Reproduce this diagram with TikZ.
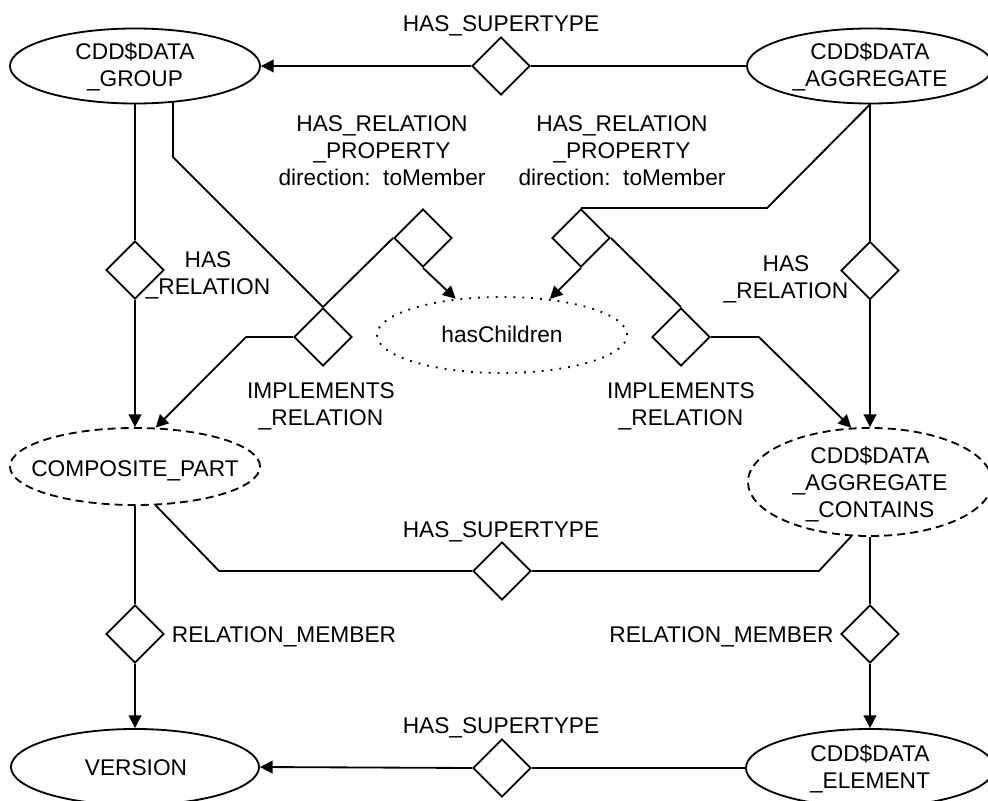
\documentclass[tikz,border=0pt]{standalone}
\usepackage{fontspec}
\setmainfont{Liberation Sans}
\usetikzlibrary{shapes.geometric,arrows.meta,backgrounds}
\begin{document}
\begin{tikzpicture}[x=0.025cm,y=-0.025cm,
  font=\fontsize{16.15}{19.2}\selectfont,
  line width=1.3pt,
  every node/.style={inner sep=0pt},
  ent/.style={ellipse, draw, fill=white},
  dashedent/.style={ent, dash pattern=on 5.7pt off 3.6pt},
  dottedent/.style={ent, dash pattern=on 1.3pt off 5pt},
  rel/.style={diamond, aspect=1, draw, fill=white, minimum width=1.45cm, minimum height=1.45cm},
  lbl/.style={align=center},
  conn/.style={line width=1.3pt},
  arr/.style={conn, -{Triangle[length=9pt,width=9pt]}},
]
\useasboundingbox (0,0) rectangle (988,801);

% entity ellipses
\node[ent, minimum width=6.25cm, minimum height=1.875cm] (grp) at (135,66) {};
\node[lbl] (grpt) at (135,67) {CDD\$DATA\\\_GROUP};
\node[ent, minimum width=6.15cm, minimum height=1.875cm] (agg) at (870,66) {};
\node[lbl] (aggt) at (870,67) {CDD\$DATA\\\_AGGREGATE};
\node[dashedent, minimum width=6.25cm, minimum height=1.925cm] (comp) at (135,466.5) {};
\node[anchor=base] (compt) at (135,476) {COMPOSITE\_PART};
\node[dottedent, minimum width=6.25cm, minimum height=1.9cm] (hasch) at (502,335) {};
\node[anchor=base] (hascht) at (502,343) {hasChildren};
\node[dashedent, minimum width=6.1cm, minimum height=2.7cm] (cont) at (870,482) {};
\node[lbl] (contt) at (870,484) {CDD\$DATA\\\_AGGREGATE\\\_CONTAINS};
\node[ent, minimum width=6.2cm, minimum height=1.9cm] (ver) at (135,767) {};
\node[anchor=base] (vert) at (136,775) {VERSION};
\node[ent, minimum width=6.2cm, minimum height=1.95cm] (ele) at (870,768) {};
\node[lbl] (elet) at (870,768.5) {CDD\$DATA\\\_ELEMENT};

% relationship diamonds
\node[rel] (dsup1) at (501,66) {};
\node[rel] (dsup2) at (502,571) {};
\node[rel] (dsup3) at (502,768) {};
\node[rel] (hr1) at (135,270) {};
\node[rel] (hr2) at (870,270.5) {};
\node[rel] (hrp1) at (423,238) {};
\node[rel] (hrp2) at (581,238) {};
\node[rel] (ir1) at (323,337) {};
\node[rel] (ir2) at (681,337) {};
\node[rel] (rm1) at (135,634) {};
\node[rel] (rm2) at (870,634) {};

% relationship labels
\node[anchor=base] (ldsup1) at (501,32) {HAS\_SUPERTYPE};
\node[anchor=base] (ldsup2) at (501,537) {HAS\_SUPERTYPE};
\node[anchor=base] (ldsup3) at (501,733) {HAS\_SUPERTYPE};
\node[lbl] (lhr1) at (208,275) {HAS\\\_RELATION};
\node[lbl] (lhr2) at (786,279) {HAS\\\_RELATION};
\node[lbl] (lhrp1) at (382,151) {HAS\_RELATION\\\_PROPERTY\\direction:~~toMember};
\node[lbl] (lhrp2) at (622,151) {HAS\_RELATION\\\_PROPERTY\\direction:~~toMember};
\node[lbl] (lir1) at (321,406) {IMPLEMENTS\\\_RELATION};
\node[lbl] (lir2) at (681,406) {IMPLEMENTS\\\_RELATION};
\node[anchor=base] (lrm1) at (284,642) {RELATION\_MEMBER};
\node[anchor=base] (lrm2) at (721.5,642) {RELATION\_MEMBER};

% connectors, drawn beneath the white-filled shapes
\begin{scope}[on background layer]
  \draw[arr] (dsup1.west) -- (grp.east);
  \draw[conn] (agg.west) -- (dsup1.east);
  \draw[conn] (grp.south) -- (hr1.north);
  \draw[arr] (hr1.south) -- (comp.north);
  \path (ir1.north) ++(-150,-150) coordinate (g1);
  \draw[conn] (ir1.north) -- (g1) -- (g1 |- grp.center);
  \draw[conn] (hrp1.west) -- (ir1.north);
  \draw[arr] (hrp1.south) -- (hasch.142.5);
  \draw[arr] (ir1.west) -- ++(-47,0) -- (comp.62);
  \draw[conn] (hrp2.north) -- ++(186,0) -- (agg.south);
  \draw[arr] (hrp2.south) -- (hasch.37.5);
  \draw[conn] (hrp2.east) -- (ir2.north);
  \draw[arr] (ir2.east) -- ++(48,0) -- (cont.109.4);
  \draw[conn] (agg.south) -- (hr2.north);
  \draw[arr] (hr2.south) -- (cont.north);
  \draw[conn] (dsup2.west) -- ++(-253,0) -- (comp.-62);
  \draw[conn] (dsup2.east) -- ++(287,0) -- (cont.-109.4);
  \draw[conn] (comp.south) -- (rm1.north);
  \draw[arr] (rm1.south) -- (ver.north);
  \draw[conn] (cont.south) -- (rm2.north);
  \draw[arr] (rm2.south) -- (ele.north);
  \draw[arr] (dsup3.west) -- (ver.east);
  \draw[conn] (ele.west) -- (dsup3.east);
\end{scope}
\end{tikzpicture}
\end{document}
